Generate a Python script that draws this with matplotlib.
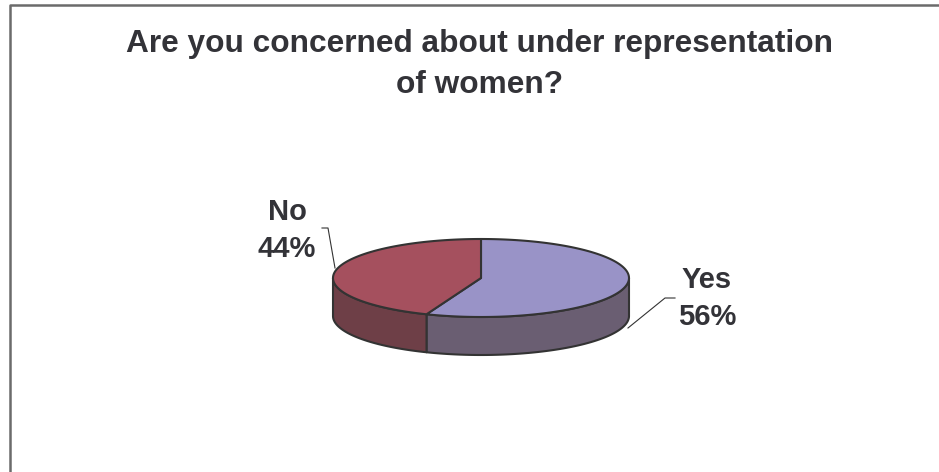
import numpy as np
import matplotlib.pyplot as plt
from matplotlib.patches import Polygon

# data
labels = ["Yes", "No"]
values = [56, 44]
top_colors = ["#9993C7", "#A5505E"]
side_colors = ["#6A5E72", "#6E3F47"]
title_lines = ["Are you concerned about under representation", "of women?"]

# pie geometry (pixels)
cx, cy = 481, 278
ra, rb = 148, 39
depth = 38
edge = "#333333"

plt.rcParams['font.family'] = ['Liberation Sans', 'DejaVu Sans']

fig = plt.figure(figsize=(9.39, 4.72), dpi=100)
ax = fig.add_axes([0, 0, 1, 1])
ax.set_xlim(0, 939)
ax.set_ylim(472, 0)
ax.axis('off')

# chart frame (only top and left visible)
ax.plot([10, 10, 939], [472, 5, 5], color="#6b6b6b", lw=1.8, solid_capstyle='butt')


def pt(theta, dy=0):
    t = np.radians(theta)
    return cx + ra * np.cos(t), cy - rb * np.sin(t) + dy


# wedge angles, starting at 12 o'clock going clockwise
total = sum(values)
starts, ends = [], []
a = 90.0
for v in values:
    span = 360.0 * v / total
    starts.append(a - span)
    ends.append(a)
    a -= span

# side walls (front half only: angles 180..360)
for s, e, col in zip(starts, ends, side_colors):
    s0 = s % 360
    e0 = s0 + (e - s)
    for lo, hi in [(180, 360), (540, 720)]:
        a0, a1 = max(s0, lo), min(e0, hi)
        if a1 <= a0:
            continue
        th = np.linspace(a0, a1, 100)
        xs, ys = pt(th)
        xb, yb = pt(th[::-1], depth)
        poly = np.column_stack([np.concatenate([xs, xb]), np.concatenate([ys, yb])])
        ax.add_patch(Polygon(poly, closed=True, facecolor=col, edgecolor=edge,
                             lw=1.5, joinstyle='round'))

# top faces
for s, e, col in zip(starts, ends, top_colors):
    th = np.linspace(s, e, 200)
    xs, ys = pt(th)
    poly = np.column_stack([np.concatenate([[cx], xs]), np.concatenate([[cy], ys])])
    ax.add_patch(Polygon(poly, closed=True, facecolor=col, edgecolor=edge,
                         lw=1.5, joinstyle='round'))

# title
tc = "#333338"
for line, y in zip(title_lines, [52, 93]):
    ax.text(480, y, line, ha='center', va='baseline', fontsize=22.8,
            fontweight='bold', color=tc)


def label(x, y, name, val):
    ax.text(x, y, name, ha='center', va='baseline', fontsize=21,
            fontweight='bold', color=tc)
    ax.text(x, y + 37, "%d%%" % val, ha='center', va='baseline', fontsize=21,
            fontweight='bold', color=tc)


# labels with leader lines
label(287, 220, labels[1], values[1])
ax.plot([322, 328, 335], [228, 228, 268], color="#333333", lw=0.8)

label(707, 288, labels[0], values[0])
ax.plot([675, 665, 628], [298, 298, 328], color="#333333", lw=0.8)

fig.savefig("out.png", dpi=100)
